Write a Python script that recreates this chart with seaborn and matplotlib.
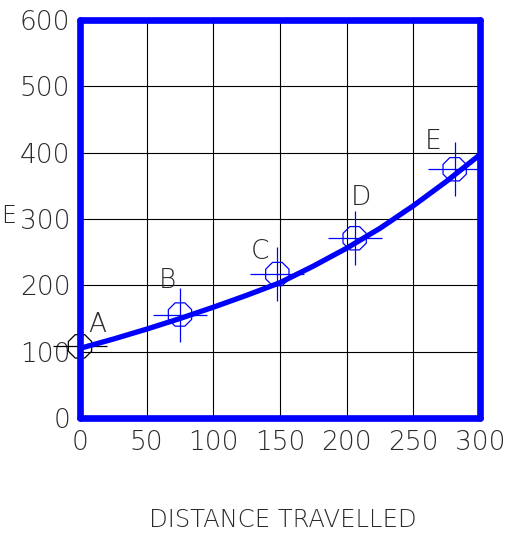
import matplotlib
matplotlib.use("Agg")
import matplotlib.pyplot as plt
import seaborn as sns
import pandas as pd

# Data
point_labels = ["A", "B", "C", "D", "E"]
distance = [0, 75, 148, 206, 281]
energy = [108, 156, 217, 271, 375]

curve_x = [0, 25, 50, 75, 100, 125, 150, 175, 200, 225, 250, 275, 300]
curve_y = [105, 119, 134, 150, 167, 185, 204, 229, 256, 286, 320, 357, 397]

x_ticks = [0, 50, 100, 150, 200, 250, 300]
y_ticks = [0, 100, 200, 300, 400, 500, 600]

sns.set_theme(style="white")
plt.rcParams["font.family"] = ["DejaVu Sans"]

BLUE = "#0000FF"
TXT = "#2a2a2a"

fig = plt.figure(figsize=(5.3, 5.36), dpi=100)
ax = fig.add_axes([80/530, 118/536, 400/530, 398/536])

pts = pd.DataFrame({"label": point_labels, "distance": distance, "energy": energy})
curve = pd.DataFrame({"x": curve_x, "y": curve_y})

ax.set_xlim(0, 300)
ax.set_ylim(0, 600)
ax.set_xticks(x_ticks)
ax.set_yticks(y_ticks)
ax.grid(True, color="black", lw=0.8)
ax.set_axisbelow(True)

sns.lineplot(data=curve, x="x", y="y", color=BLUE, lw=3.8, ax=ax, zorder=3)

colors = ["black" if l == "A" else BLUE for l in point_labels]
for i, row in pts.iterrows():
    c = colors[i]
    z = 2.2 if point_labels[i] == "A" else 4
    sub = pts.iloc[[i]]
    sns.scatterplot(data=sub, x="distance", y="energy", marker="8", s=330,
                    facecolor="none", edgecolor=c, linewidth=0.9, ax=ax,
                    zorder=z, clip_on=False, legend=False)
    sns.scatterplot(data=sub, x="distance", y="energy", marker="+", s=1550,
                    color=c, linewidth=0.9, ax=ax, zorder=z, clip_on=False,
                    legend=False)

offsets = [(17, 22), (-13, 34), (-17, 23), (6, 41), (-22, 28)]
for (lab, x, y), off in zip(zip(point_labels, distance, energy), offsets):
    ax.annotate(lab, (x, y), xytext=off, textcoords="offset pixels",
                ha="center", va="center", fontsize=19, color=TXT,
                fontweight="light", zorder=5)

for s in ax.spines.values():
    s.set_color(BLUE)
    s.set_linewidth(4.8)
    s.set_capstyle("round")
    s.set_zorder(3.5)

ax.tick_params(axis="both", length=0, labelsize=19, labelcolor=TXT)
ax.tick_params(axis="y", pad=7)
ax.tick_params(axis="x", pad=9)
for t in ax.get_xticklabels() + ax.get_yticklabels():
    t.set_fontweight("light")
ax.set_xlabel("")
ax.set_ylabel("")

fig.text(283/530, 1 - 520/536, "DISTANCE TRAVELLED", ha="center", va="center",
         fontsize=17.5, color=TXT, fontweight="light")
fig.text(9/530, 1 - 216/536, "E", ha="center", va="center",
         fontsize=17, color=TXT, fontweight="light")

fig.savefig("out.png", dpi=100)
